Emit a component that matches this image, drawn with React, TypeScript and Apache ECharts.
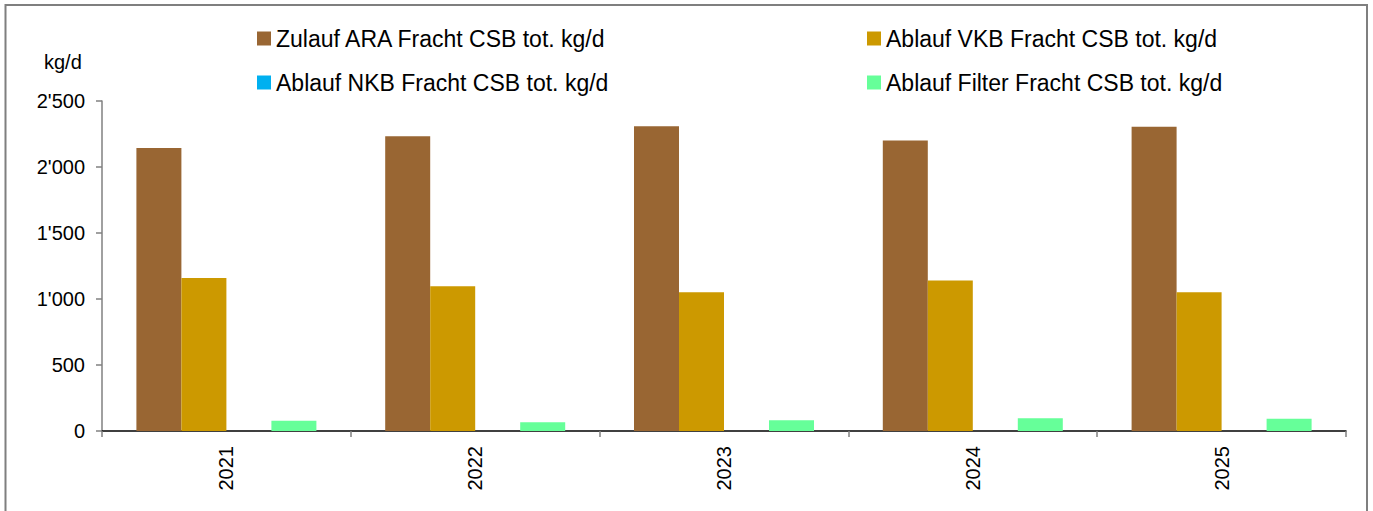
import React, { useEffect, useRef } from "react";
import * as echarts from "echarts";

const years = ["2021", "2022", "2023", "2024", "2025"];
const zulaufARA = [2144, 2233, 2308, 2200, 2305];
const ablaufVKB = [1159, 1096, 1051, 1140, 1051];
const ablaufNKB: (number | null)[] = [null, null, null, null, null];
const ablaufFilter = [78, 66, 81, 96, 93];

const seriesNames = [
  "Zulauf ARA Fracht CSB tot. kg/d",
  "Ablauf VKB Fracht CSB tot. kg/d",
  "Ablauf NKB Fracht CSB tot. kg/d",
  "Ablauf Filter Fracht CSB tot. kg/d",
];
const colors = ["#996633", "#CC9900", "#00B0F0", "#66FF99"];
const yTicks = [0, 500, 1000, 1500, 2000, 2500];

const FONT = "'Liberation Sans', Arial, sans-serif";

function fmt(v: number): string {
  return String(Math.round(v)).replace(/\B(?=(\d{3})+(?!\d))/g, "'");
}

export default function App() {
  const ref = useRef<HTMLDivElement>(null);
  useEffect(() => {
    if (!ref.current) return;
    const chart = echarts.init(ref.current, null, { renderer: "svg" });
    const data = [zulaufARA, ablaufVKB, ablaufNKB, ablaufFilter];
    const legendPos = [
      { left: 257, top: 27 },
      { left: 867, top: 27 },
      { left: 257, top: 71 },
      { left: 867, top: 71 },
    ];
    chart.setOption({
      animation: false,
      color: colors,
      textStyle: { fontFamily: FONT },
      legend: seriesNames.map((n, i) => ({
        data: [n],
        left: legendPos[i].left,
        top: legendPos[i].top,
        padding: 0,
        icon: "rect",
        itemWidth: 14,
        itemHeight: 14,
        selectedMode: false,
        textStyle: { fontSize: 23, color: "#000", fontFamily: FONT },
      })),
      grid: { left: 102, right: 27, top: 101, bottom: 80, containLabel: false },
      xAxis: {
        type: "category",
        data: years,
        boundaryGap: true,
        axisLine: { lineStyle: { color: "#000", width: 1.5 } },
        axisTick: { show: true, length: 6, lineStyle: { color: "#808080", width: 1.5 } },
        axisLabel: { rotate: 90, fontSize: 20, color: "#000", margin: 15, fontFamily: FONT },
        splitLine: { show: false },
      },
      yAxis: {
        type: "value",
        min: yTicks[0],
        max: yTicks[yTicks.length - 1],
        interval: 500,
        axisLine: { show: true, lineStyle: { color: "#808080", width: 1.5 } },
        axisTick: { show: true, length: 6, lineStyle: { color: "#808080", width: 1.5 } },
        axisLabel: { fontSize: 20, color: "#000", margin: 17, fontFamily: FONT, formatter: (v: number) => fmt(v) },
        splitLine: { show: false },
      },
      graphic: [
        {
          type: "rect",
          shape: { x: 5.5, y: 5, width: 1361.5, height: 600 },
          style: { fill: "none", stroke: "#7f7f7f", lineWidth: 2 },
          silent: true,
        },
        {
          type: "text",
          x: 44,
          y: 62,
          style: { text: "kg/d", fontSize: 20, fill: "#000", fontFamily: FONT, verticalAlign: "middle", align: "left" },
        },
      ],
      series: seriesNames.map((n, i) => ({
        name: n,
        type: "bar",
        data: data[i],
        barWidth: 45,
        barGap: "0%",
        itemStyle: { color: colors[i] },
      })),
    });
    return () => chart.dispose();
  }, []);
  return (
    <div
      ref={ref}
      style={{ position: "fixed", left: 0, top: 0, width: 1373, height: 511, background: "#fff" }}
    />
  );
}
